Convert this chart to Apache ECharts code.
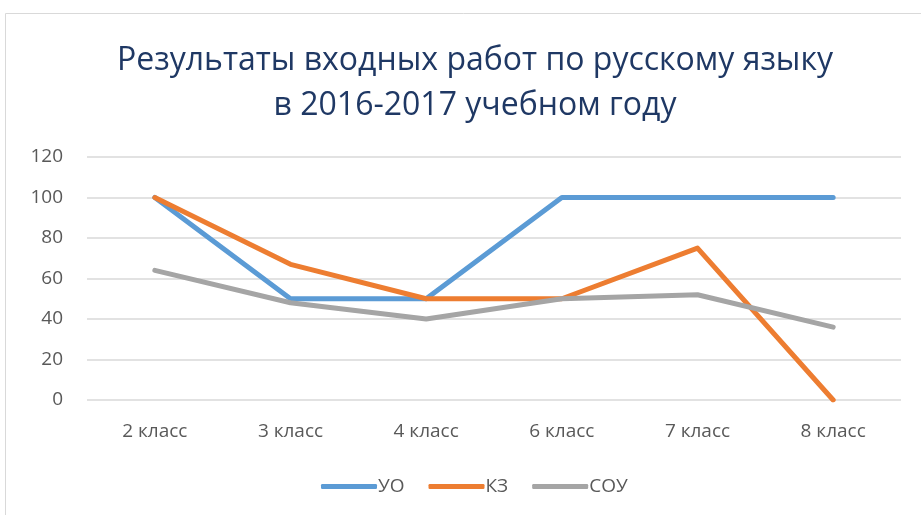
<!DOCTYPE html>
<html lang="ru">
  <head>
    <meta charset="UTF-8" />
    <script src="https://cdn.jsdelivr.net/npm/echarts@6/dist/echarts.min.js"></script>
    <style>
      body{margin:0;padding:0;background:#fff;}
      #main{width:921px;height:515px;}
    </style>
  </head>
  <body>
    <div id="main"></div>
    <script>
      // данные
      var classes = ['2 класс', '3 класс', '4 класс', '6 класс', '7 класс', '8 класс'];
      var uo = [100, 50, 50, 100, 100, 100];
      var kz = [100, 67, 50, 50, 75, 0];
      var sou = [64, 48, 40, 50, 52, 36];
      var seriesNames = ['УО', 'КЗ', 'СОУ'];
      var colors = ['#5B9BD5', '#ED7D31', '#A5A5A5'];

      var myChart = echarts.init(document.getElementById('main'));
      var font = 'Open Sans';

      function line(name, data, color) {
        return {
          name: name,
          type: 'line',
          data: data,
          symbol: 'none',
          lineStyle: {width: 5, color: color, cap: 'round', join: 'round'},
          itemStyle: {color: color}
        };
      }

      var option = {
        animation: false,
        graphic: [{
          type: 'rect',
          shape: {x: 5.5, y: 13.5, width: 940, height: 540},
          style: {fill: 'none', stroke: '#d9d9d9', lineWidth: 1}
        }],
        title: {
          text: 'Результаты входных работ по русскому языку\nв 2016-2017 учебном году',
          left: 470,
          textAlign: 'center',
          top: 33,
          textStyle: {fontFamily: font, fontSize: 32, fontWeight: 'normal', color: '#1F3864', lineHeight: 45}
        },
        legend: {
          bottom: 14,
          left: 316,
          itemWidth: 56,
          itemHeight: 5,
          itemGap: 24,
          icon: 'roundRect',
          textStyle: {fontFamily: font, fontSize: 19, color: '#595959', padding: [0, 0, 0, -4]},
          data: seriesNames
        },
        grid: {left: 87, right: 20, top: 157, bottom: 115},
        xAxis: {
          type: 'category',
          data: classes,
          boundaryGap: true,
          axisLine: {show: false},
          axisTick: {show: false},
          axisLabel: {fontFamily: font, fontSize: 19, color: '#595959', margin: 22}
        },
        yAxis: {
          type: 'value',
          min: 0,
          max: 120,
          interval: 20,
          axisLine: {show: false},
          axisTick: {show: false},
          axisLabel: {fontFamily: font, fontSize: 19, color: '#595959', margin: 24},
          splitLine: {lineStyle: {color: '#d9d9d9', width: 1.5}}
        },
        series: [
          line(seriesNames[0], uo, colors[0]),
          line(seriesNames[1], kz, colors[1]),
          line(seriesNames[2], sou, colors[2])
        ]
      };
      myChart.setOption(option);
    </script>
  </body>
</html>
